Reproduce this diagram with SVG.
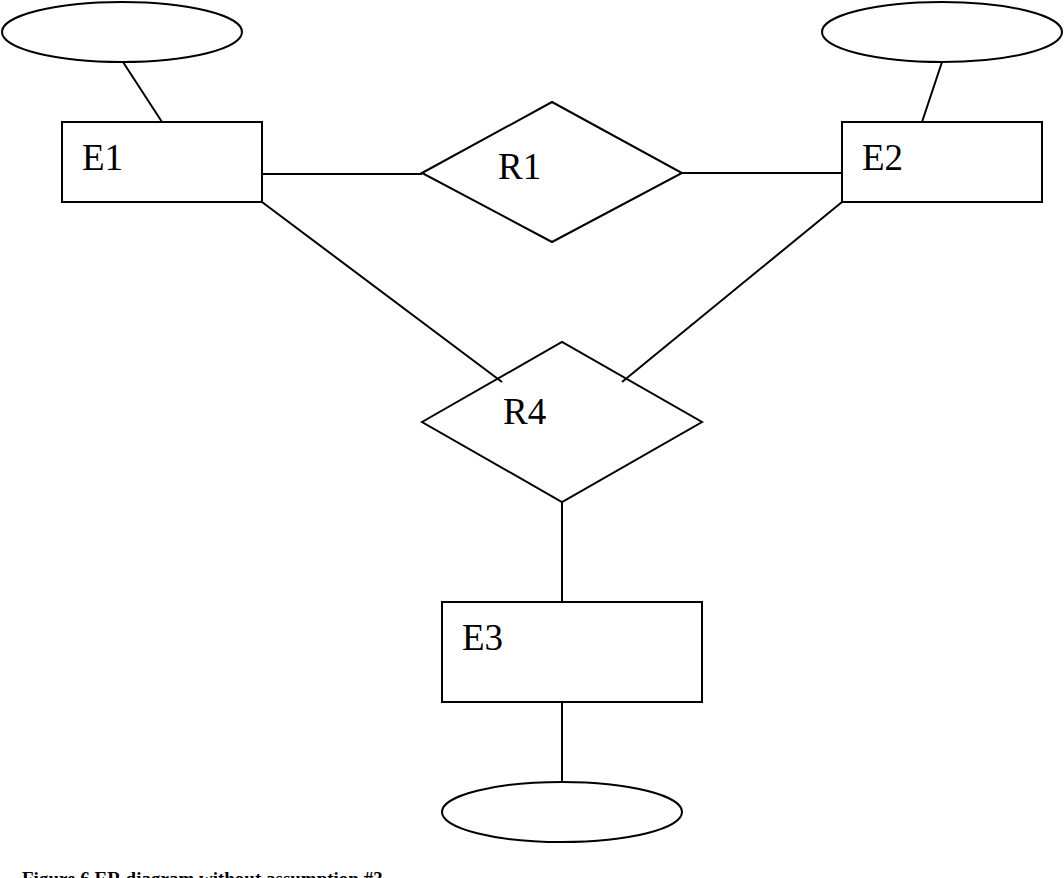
<svg xmlns="http://www.w3.org/2000/svg" width="1064" height="878" viewBox="0 0 1064 878">
<style>
.s{fill:#fff;stroke:#000;stroke-width:2}
.c{stroke:#000;stroke-width:2;fill:none}
.t{font-family:"Liberation Serif","Times New Roman",serif;font-size:37px;fill:#000}
.cap{font-family:"Liberation Serif","Times New Roman",serif;font-size:19px;font-weight:bold;fill:#000}
</style>
<rect width="1064" height="878" fill="#fff"/>
<g id="connectors">
<line class="c" x1="123" y1="62" x2="162" y2="122"/>
<line class="c" x1="942" y1="62" x2="922" y2="122"/>
<line class="c" x1="262" y1="174" x2="422" y2="174"/>
<line class="c" x1="682" y1="173" x2="842" y2="173"/>
<line class="c" x1="262" y1="202" x2="502" y2="382"/>
<line class="c" x1="842" y1="202" x2="622" y2="382"/>
<line class="c" x1="562" y1="502" x2="562" y2="602"/>
<line class="c" x1="562" y1="702" x2="562" y2="782"/>
</g>
<g id="attr1"><ellipse class="s" cx="122" cy="32" rx="120" ry="30"/></g>
<g id="attr2"><ellipse class="s" cx="942" cy="32" rx="120" ry="30"/></g>
<g id="attr3"><ellipse class="s" cx="562" cy="812" rx="120" ry="30"/></g>
<g id="E1"><rect class="s" x="62" y="122" width="200" height="80"/><text class="t" x="82" y="170">E1</text></g>
<g id="E2"><rect class="s" x="842" y="122" width="200" height="80"/><text class="t" x="862" y="170">E2</text></g>
<g id="E3"><rect class="s" x="442" y="602" width="260" height="100"/><text class="t" x="462" y="650">E3</text></g>
<g id="R1"><polygon class="s" points="422,173 552,102 682,173 552,242"/><text class="t" x="498" y="179">R1</text></g>
<g id="R4"><polygon class="c" points="422,422 562,342 702,422 562,502"/><text class="t" x="503" y="424">R4</text></g>
<text class="cap" x="22" y="885">Figure 6 ER diagram without assumption #3</text>
</svg>
